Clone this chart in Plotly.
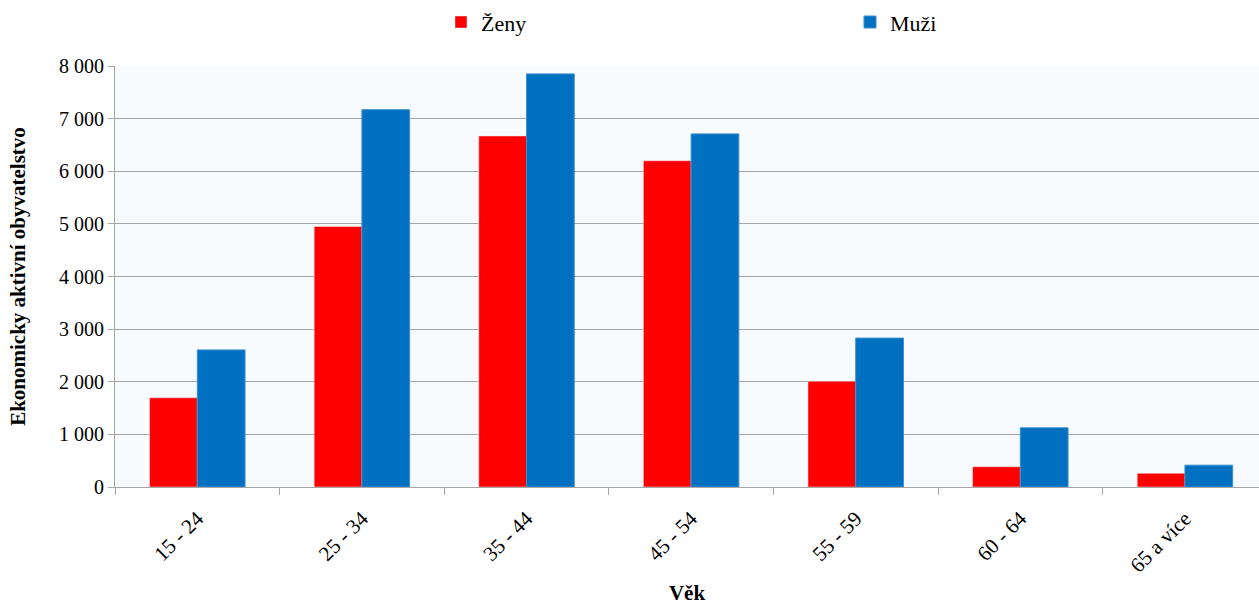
import plotly.graph_objects as go

# Economically active population by age group and sex
categories = ["15 - 24", "25 - 34", "35 - 44", "45 - 54", "55 - 59", "60 - 64", "65 a více"]
zeny = [1695, 4950, 6670, 6200, 2010, 385, 260]
muzi = [2605, 7170, 7850, 6710, 2830, 1125, 415]
y_ticks = [0, 1000, 2000, 3000, 4000, 5000, 6000, 7000, 8000]

FONT = "Liberation Serif, Times New Roman, serif"

fig = go.Figure()
fig.add_trace(go.Bar(name="Ženy", x=categories, y=zeny, marker=dict(color="#FF0000")))
fig.add_trace(go.Bar(name="Muži", x=categories, y=muzi,
                     marker=dict(color="#0070C0", line=dict(color="#3C8FD0", width=1))))

fig.update_layout(
    width=1259, height=605,
    margin=dict(l=115, r=0, t=66, b=118),
    paper_bgcolor="white",
    plot_bgcolor="#F7FBFD",
    barmode="group",
    bargap=0.42,
    bargroupgap=0,
    separators=", ",
    font=dict(family=FONT, size=19, color="black"),
    showlegend=True,
    legend=dict(
        orientation="h",
        x=0.348, xanchor="left",
        y=0.998, yanchor="top",
        yref="container",
        entrywidth=364, entrywidthmode="pixels",
        itemwidth=30,
        font=dict(family=FONT, size=22),
        bgcolor="rgba(0,0,0,0)",
        traceorder="normal",
    ),
)

fig.update_xaxes(
    type="category",
    range=[-0.5, 6.45],
    showline=True, linecolor="#A6A6A6", linewidth=1,
    ticks="outside", tickson="boundaries", ticklen=7, tickcolor="#A6A6A6",
    tickangle=-45,
    ticklabelstandoff=10,
    tickfont=dict(family=FONT, size=21),
    showgrid=False,
    title=dict(text="<b>Věk</b>", font=dict(family=FONT, size=21), standoff=11),
)
fig.update_yaxes(
    range=[0, 8000],
    tickvals=y_ticks,
    tickformat=",d",
    showline=True, linecolor="#A6A6A6", linewidth=1,
    ticks="outside", ticklen=6, tickcolor="#A6A6A6",
    showgrid=True, gridcolor="#A6A6A6", gridwidth=1,
    zeroline=False,
    tickfont=dict(family=FONT, size=20),
    title=dict(text="<b>Ekonomicky aktivní obyvatelstvo</b>", font=dict(family=FONT, size=21), standoff=27),
)

fig.write_html("out.html")
